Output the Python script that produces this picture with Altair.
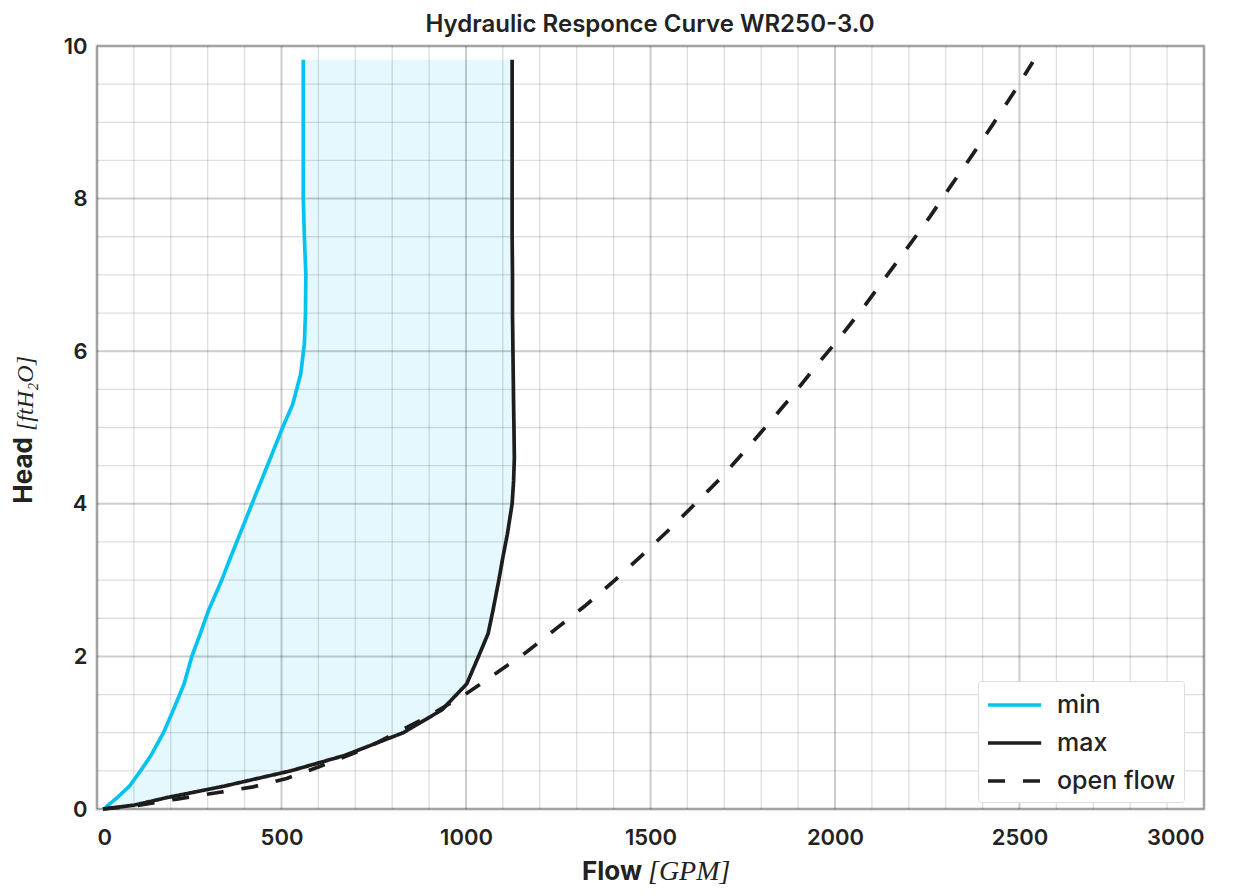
import altair as alt
import pandas as pd

# ---- data ----
band_head = [0.0, 0.05, 0.15, 0.3, 0.5, 0.7, 1.0, 1.3, 1.64, 2.0, 2.3, 2.6, 3.0, 3.3,
             3.6, 4.0, 4.3, 4.6, 5.0, 5.3, 5.7, 6.1, 6.5, 7.0, 7.5, 8.0, 9.0, 9.82]
min_flow = [20, 30, 55, 88, 118, 146, 180, 207, 236, 257, 280, 302, 338, 362,
            387, 420, 445, 470, 503, 530, 552, 562, 565, 566, 562, 559, 559, 559]
max_flow = [16, 100, 190, 345, 525, 670, 830, 935, 1002, 1034, 1060, 1073, 1089, 1100,
            1112, 1125, 1129, 1131, 1130, 1129, 1128, 1127, 1126, 1126, 1125, 1125, 1125, 1125]

open_flow = [16, 100, 216, 333, 423, 514, 600, 731, 803, 893, 997, 1043, 1165, 1246,
             1322, 1399, 1476, 1548, 1621, 1689, 1757, 1825, 1888, 1951, 2015, 2078,
             2139, 2197, 2257, 2313, 2369, 2426, 2483, 2536]
open_head = [0.0, 0.04, 0.13, 0.22, 0.29, 0.40, 0.55, 0.80, 0.98, 1.20, 1.50, 1.65, 2.06, 2.37,
             2.66, 2.98, 3.32, 3.65, 4.00, 4.33, 4.70, 5.08, 5.44, 5.82, 6.19, 6.58,
             6.98, 7.36, 7.76, 8.16, 8.55, 8.96, 9.38, 9.79]

series_names = ["min", "max", "open flow"]
x_ticks = [0, 500, 1000, 1500, 2000, 2500, 3000]
y_ticks = [0, 2, 4, 6, 8, 10]
x_minor = [v for v in range(0, 3001, 100) if v % 500 != 0]
y_minor = [v / 2 for v in range(0, 21) if v % 4 != 0]
chart_title = "Hydraulic Responce Curve WR250-3.0"

CYAN = "#05c3ee"
BLACK = "#1d1d1d"
FONT = "Inter"
TXT = "#222222"

band = pd.DataFrame({"head": band_head, "lo": min_flow, "hi": max_flow})
rows = []
for i, (f, h) in enumerate(zip(min_flow, band_head)):
    rows.append({"series": "min", "flow": f, "head": h, "idx": i})
for i, (f, h) in enumerate(zip(max_flow, band_head)):
    rows.append({"series": "max", "flow": f, "head": h, "idx": i})
for i, (f, h) in enumerate(zip(open_flow, open_head)):
    rows.append({"series": "open flow", "flow": f, "head": h, "idx": i})
lines = pd.DataFrame(rows)

xscale = alt.Scale(domain=[0, 3000], nice=False, zero=False)
yscale = alt.Scale(domain=[0, 10], nice=False, zero=False)

xaxis = alt.Axis(values=x_ticks, format="d", title=None, grid=False, ticks=False, domain=False,
                 labelFont=FONT, labelFontSize=22, labelFontWeight=600, labelColor=TXT,
                 labelPadding=18)
yaxis = alt.Axis(values=y_ticks, format="d", title=None, grid=False, ticks=False, domain=False,
                 labelFont=FONT, labelFontSize=22, labelFontWeight=600, labelColor=TXT,
                 labelPadding=10)

area = alt.Chart(band).mark_area(orient="horizontal", color=CYAN, opacity=0.11).encode(
    y=alt.Y("head:Q", scale=yscale, axis=yaxis),
    x=alt.X("lo:Q", scale=xscale, axis=xaxis),
    x2="hi:Q",
)

def vgrid(vals, width, op):
    return alt.Chart(pd.DataFrame({"v": vals})).mark_rule(
        color="#000", strokeWidth=width, opacity=op).encode(x=alt.X("v:Q", scale=xscale))

def hgrid(vals, width, op):
    return alt.Chart(pd.DataFrame({"v": vals})).mark_rule(
        color="#000", strokeWidth=width, opacity=op).encode(y=alt.Y("v:Q", scale=yscale))

grid = (vgrid(x_minor, 1.3, 0.13) + vgrid(x_ticks, 2, 0.2) +
        hgrid(y_minor, 1.3, 0.13) + hgrid(y_ticks, 2, 0.2))

curves = alt.Chart(lines).mark_line(strokeWidth=3.7).encode(
    x=alt.X("flow:Q", scale=xscale),
    y=alt.Y("head:Q", scale=yscale),
    order="idx:Q",
    color=alt.Color("series:N", scale=alt.Scale(domain=series_names, range=[CYAN, BLACK, BLACK]),
                    legend=alt.Legend(title=None, orient="none", legendX=881, legendY=635,
                                      fillColor="white", strokeColor="#dddddd", padding=8,
                                      cornerRadius=3, labelFont=FONT, labelFontSize=25,
                                      labelFontWeight=500, labelColor=TXT,
                                      symbolType="M-1,0H2.8", symbolSize=784,
                                      symbolStrokeWidth=3.5, labelOffset=39, rowPadding=9)),
    strokeDash=alt.StrokeDash("series:N",
                              scale=alt.Scale(domain=series_names, range=[[1, 0], [1, 0], [17, 18]]),
                              legend=alt.Legend(title=None)),
)

title_mark = alt.Chart(pd.DataFrame({"t": [chart_title]})).mark_text(
    font=FONT, fontSize=24, fontWeight=600, color=TXT,
    align="center", baseline="alphabetic").encode(text="t:N", x=alt.value(553), y=alt.value(-14))
x_title_a = alt.Chart(pd.DataFrame({"t": ["Flow"]})).mark_text(
    font=FONT, fontSize=26, fontWeight=700, color=TXT,
    align="right", baseline="alphabetic").encode(text="t:N", x=alt.value(545), y=alt.value(834))
x_title_b = alt.Chart(pd.DataFrame({"t": ["[GPM]"]})).mark_text(
    font="Liberation Serif", fontSize=28, fontStyle="italic", color=TXT,
    align="left", baseline="alphabetic").encode(text="t:N", x=alt.value(551), y=alt.value(834))
y_title_a = alt.Chart(pd.DataFrame({"t": ["Head"]})).mark_text(
    font=FONT, fontSize=26, fontWeight=700, color=TXT, angle=270,
    align="right", baseline="alphabetic").encode(text="t:N", x=alt.value(-65), y=alt.value(391))
y_title_b = alt.Chart(pd.DataFrame({"t": ["[ftH₂O]"]})).mark_text(
    font="Liberation Serif", fontSize=24, fontStyle="italic", color=TXT, angle=270,
    align="left", baseline="alphabetic").encode(text="t:N", x=alt.value(-64), y=alt.value(385))

chart = alt.layer(area, grid, curves, title_mark, x_title_a, x_title_b,
                  y_title_a, y_title_b).properties(
    width=1107, height=763,
    autosize=alt.AutoSizeParams(type="none"),
    padding={"left": 89, "top": 38, "right": 30, "bottom": 78},
).configure_view(stroke="#cccccc", strokeWidth=3).resolve_scale(color="shared")

chart.save("out.html", embed_options={"renderer": "svg", "actions": False})
